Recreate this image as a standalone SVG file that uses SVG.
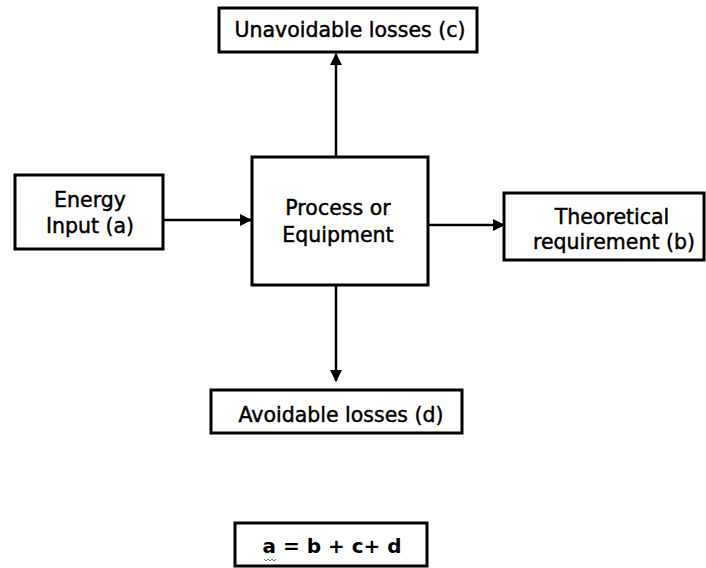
<svg xmlns="http://www.w3.org/2000/svg" width="706" height="568" viewBox="0 0 706 568">
<defs>
<style>
.box{fill:#fff;stroke:#000;stroke-width:3}
.t{font-family:"DejaVu Sans",Verdana,sans-serif;font-size:20.5px;fill:#000;stroke:#000;stroke-width:0.45;text-anchor:middle}
.f{font-family:"DejaVu Sans",Verdana,sans-serif;font-size:20px;font-weight:bold;fill:#000;text-anchor:middle}
.c{stroke:#000;stroke-width:2.5;fill:none}
</style>
<marker id="ah" viewBox="0 0 12 12" refX="11" refY="6" markerWidth="12" markerHeight="12" markerUnits="userSpaceOnUse" orient="auto">
<path d="M0,0 L12,6 L0,12 Z" fill="#000"/>
</marker>
</defs>
<rect width="706" height="568" fill="#fff"/>
<g id="connectors">
<line class="c" x1="163" y1="220" x2="251" y2="220" marker-end="url(#ah)"/>
<line class="c" x1="428" y1="225" x2="504" y2="225" marker-end="url(#ah)"/>
<line class="c" x1="336" y1="157" x2="336" y2="54" marker-end="url(#ah)"/>
<line class="c" x1="336" y1="285" x2="336" y2="381" marker-end="url(#ah)"/>
</g>
<g id="unavoidable">
<rect class="box" x="219" y="8" width="258" height="44"/>
<text class="t" x="350" y="37">Unavoidable losses (c)</text>
</g>
<g id="energy">
<rect class="box" x="15" y="175" width="148" height="74"/>
<text class="t" x="90" y="207">Energy</text>
<text class="t" x="90" y="233">Input (a)</text>
</g>
<g id="process">
<rect class="box" x="252" y="157" width="176" height="128"/>
<text class="t" x="338" y="215">Process or</text>
<text class="t" x="338" y="242">Equipment</text>
</g>
<g id="theoretical">
<rect class="box" x="504" y="193" width="200" height="67"/>
<text class="t" x="612" y="224">Theoretical</text>
<text class="t" x="614" y="249">requirement (b)</text>
</g>
<g id="avoidable">
<rect class="box" x="211" y="390" width="251" height="43"/>
<text class="t" x="341" y="422">Avoidable losses (d)</text>
</g>
<g id="formula">
<rect class="box" x="235" y="523" width="192" height="43"/>
<text class="f" x="332" y="553">a = b + c+ d</text>
<path d="M264,559 l2,2 l2,-2 l2,2 l2,-2 l2,2 l2,-2" stroke="#3a9b3a" stroke-width="1" fill="none"/>
</g>
</svg>
